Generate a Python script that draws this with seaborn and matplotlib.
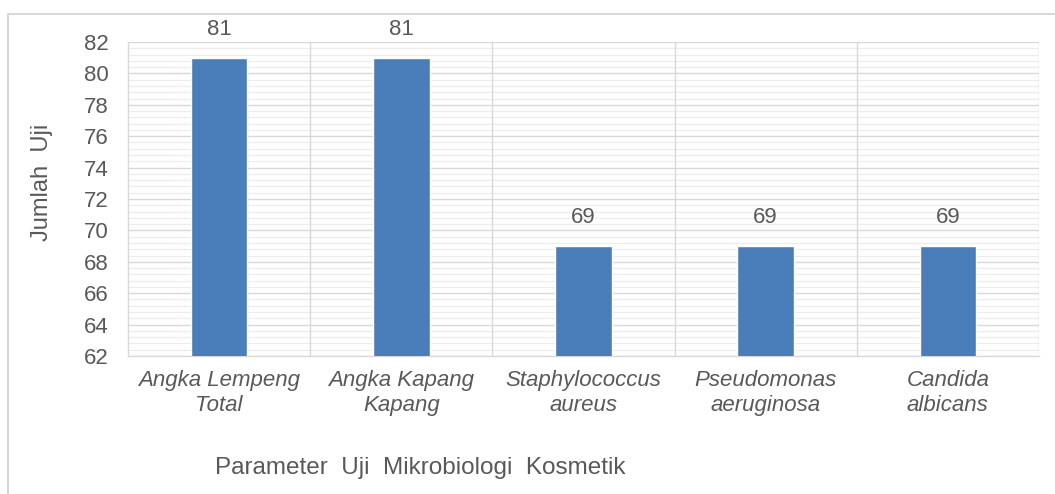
import numpy as np
import pandas as pd
import matplotlib
matplotlib.use("Agg")
import matplotlib.pyplot as plt
import seaborn as sns
from matplotlib.ticker import MultipleLocator
from matplotlib.patches import Rectangle

# Data
categories = ["Angka Lempeng\nTotal", "Angka Kapang\nKapang", "Staphylococcus\naureus",
              "Pseudomonas\naeruginosa", "Candida\nalbicans"]
jumlah_uji = [81, 81, 69, 69, 69]
y_ticks = [62, 64, 66, 68, 70, 72, 74, 76, 78, 80, 82]

df = pd.DataFrame({"param": categories, "jumlah": jumlah_uji})

sns.set_style("white")
plt.rcParams["font.family"] = ["Liberation Sans", "DejaVu Sans"]
text_col = "#595959"
grid_major = "#d9d9d9"
grid_minor = "#ececec"

fig = plt.figure(figsize=(10.55, 4.94), dpi=100)
ax = fig.add_axes([0.1213, 0.2794, 0.8635, 0.6356])

sns.barplot(data=df, x="param", y="jumlah", color="#4a7ebb", width=0.31,
            saturation=1, ax=ax, zorder=3)

ax.set_ylim(y_ticks[0], y_ticks[-1])
ax.set_xlim(-0.5, len(categories) - 0.5)
ax.set_yticks(y_ticks)
ax.yaxis.set_minor_locator(MultipleLocator(0.4))
ax.grid(axis="y", which="major", color=grid_major, linewidth=1, zorder=0)
ax.grid(axis="y", which="minor", color=grid_minor, linewidth=0.8, zorder=0)
for sep in np.arange(0.5, len(categories) - 0.5, 1.0):
    ax.axvline(sep, color=grid_major, linewidth=1, zorder=1)
ax.axvline(len(categories) - 0.5, color=grid_major, linewidth=1, zorder=1)

# category separators as tick marks below the axis
ax.set_xticks(np.arange(-0.5, len(categories), 1.0), minor=True)
ax.tick_params(axis="x", which="minor", length=7, color=grid_major, width=1)
ax.tick_params(axis="x", which="major", length=0, pad=10)
ax.tick_params(axis="y", which="both", length=0, pad=14)

for s in ["top", "right"]:
    ax.spines[s].set_visible(False)
for s in ["left", "bottom"]:
    ax.spines[s].set_color(grid_major)
    ax.spines[s].set_linewidth(1)

ax.set_xticks(range(len(categories)))
ax.set_xticklabels(categories, fontsize=16, style="italic", color=text_col,
                   linespacing=1.25)
ax.set_yticklabels([str(t) for t in y_ticks], fontsize=16, color=text_col)

for c in ax.containers:
    ax.bar_label(c, labels=[str(v) for v in jumlah_uji], padding=13,
                 fontsize=16, color=text_col)

ax.set_xlabel("")
ax.set_ylabel("")
fig.text(0.04, 0.63, "Jumlah  Uji", rotation=90, ha="center", va="center",
         fontsize=17, color=text_col)
fig.text(0.398, 0.053, "Parameter  Uji  Mikrobiologi  Kosmetik", ha="center",
         va="center", fontsize=17.5, color=text_col)

# outer chart border
fig.patches.append(Rectangle((8 / 1055, -0.1), 1.2, 1 - 14 / 494 + 0.1,
                             transform=fig.transFigure, fill=False,
                             edgecolor="#d0d0d0", linewidth=1.2))

fig.savefig("out.png", dpi=100)
